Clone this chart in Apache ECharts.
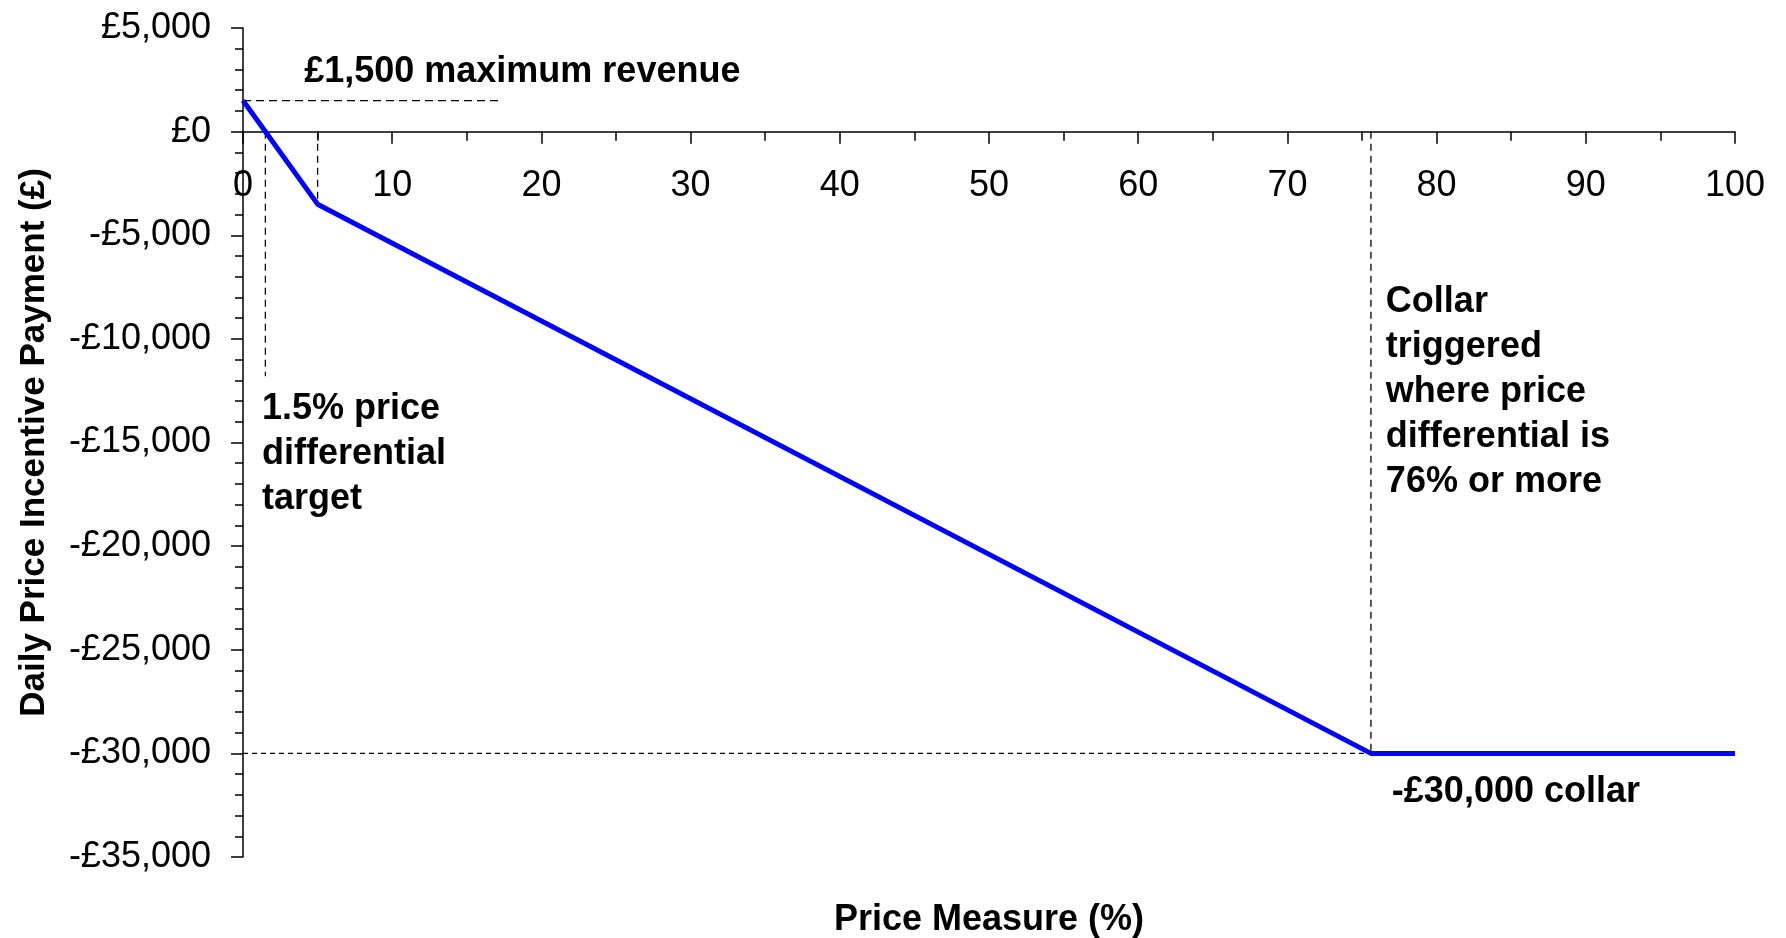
<!DOCTYPE html>
<html>
<head>
<meta charset="utf-8">
<script src="https://cdn.jsdelivr.net/npm/echarts@6/dist/echarts.min.js"></script>
<style>
    html, body { margin: 0; padding: 0; background: #fff; }
    #chart { width: 1786px; height: 938px; }
</style>
</head>
<body>
<div id="chart"></div>
<script>
// payment curve
var priceMeasure = [0, 5, 75.6, 100];
var payment = [1500, -3500, -30000, -30000];

// axis ranges
var xMin = 0, xMax = 100, xStep = 10;
var yMin = -35000, yMax = 5000, yStep = 5000;

// dashed guides [x, y]
var maxRevenueGuide = [[0, 1500], [17.4, 1500]];
var targetGuide = [[1.5, 0], [1.5, -11800]];
var kinkGuide = [[5, 0], [5, -3500]];
var collarDropGuide = [[75.6, 0], [75.6, -30000]];
var collarLevelGuide = [[0, -30000], [75.6, -30000]];

// annotation texts and their anchors (data coords)
var noteTexts = [
    '£1,500 maximum revenue',
    '1.5% price\ndifferential\ntarget',
    'Collar\ntriggered\nwhere price\ndifferential is\n76% or more',
    '-£30,000 collar',
    'Price Measure (%)'
];
var noteAnchors = [[4.1, 3980], [1.27, -12300], [76.6, -7150], [77.0, -30760], [50, -36950]];

var FONT = '"Liberation Sans", Arial, sans-serif';

(function () {
    var chartDom = document.getElementById('chart');
    var myChart = echarts.init(chartDom);
    var option;

    function money(v) {
        var s = Math.abs(v).toLocaleString('en-GB');
        return (v < 0 ? '-' : '') + '£' + s;
    }

    function guide(data, dash) {
        return {
            type: 'line',
            data: data,
            symbol: 'none',
            silent: true,
            z: 1,
            lineStyle: { color: '#000', width: 1.3, type: dash }
        };
    }

    option = {
        animation: false,
        backgroundColor: '#fff',
        grid: {
            left: 243,
            right: 51,
            top: 28,
            bottom: 81
        },
        xAxis: {
            type: 'value',
            min: xMin,
            max: xMax,
            interval: xStep,
            axisLine: { onZero: false, lineStyle: { color: '#000', width: 1.5 } },
            axisTick: { length: 12, lineStyle: { color: '#000', width: 1.5 } },
            minorTick: { show: true, splitNumber: 2, length: 9, lineStyle: { color: '#000', width: 1.5 } },
            splitLine: { show: false },
            axisLabel: {
                margin: 36,
                color: '#000',
                fontFamily: FONT,
                fontSize: 36
            }
        },
        yAxis: {
            type: 'value',
            min: yMin,
            max: yMax,
            interval: yStep,
            name: 'Daily Price Incentive Payment (£)',
            nameLocation: 'middle',
            nameGap: 191,
            nameTextStyle: {
                color: '#000',
                fontFamily: FONT,
                fontSize: 35,
                fontWeight: 'bold'
            },
            axisLine: { show: true, lineStyle: { color: '#000', width: 1.5 } },
            axisTick: { show: true, length: 12, lineStyle: { color: '#000', width: 1.5 } },
            minorTick: { show: true, splitNumber: 5, length: 8, lineStyle: { color: '#000', width: 1.5 } },
            splitLine: { show: false },
            axisLabel: {
                margin: 32,
                color: '#000',
                fontFamily: FONT,
                fontSize: 36,
                formatter: money
            }
        },
        series: [
            guide(maxRevenueGuide, [8, 5]),
            guide(targetGuide, [7, 5]),
            guide(kinkGuide, [7, 5]),
            guide(collarDropGuide, [7, 5]),
            guide(collarLevelGuide, [5, 4]),
            {
                name: 'Payment',
                type: 'line',
                data: priceMeasure.map(function (x, i) { return [x, payment[i]]; }),
                symbol: 'none',
                z: 3,
                lineStyle: { color: '#0000ff', width: 5 }
            }
        ]
    };

    option && myChart.setOption(option);

    // move the x axis up to the zero line (labels and ticks follow)
    var zeroPx = myChart.convertToPixel({ yAxisIndex: 0 }, 0);
    var bottomPx = myChart.convertToPixel({ yAxisIndex: 0 }, yMin);
    myChart.setOption({ xAxis: { offset: zeroPx - bottomPx } });

    // annotations placed from data anchors
    var graphics = noteTexts.map(function (t, i) {
        var p = myChart.convertToPixel({ gridIndex: 0 }, noteAnchors[i]);
        var centred = i === 4;
        return {
            type: 'text',
            x: p[0],
            y: p[1],
            silent: true,
            style: {
                text: t,
                fill: '#000',
                font: 'bold 36px ' + FONT,
                lineHeight: 45,
                align: centred ? 'center' : 'left',
                verticalAlign: 'top'
            }
        };
    });
    myChart.setOption({ graphic: graphics });
})();
</script>
</body>
</html>
